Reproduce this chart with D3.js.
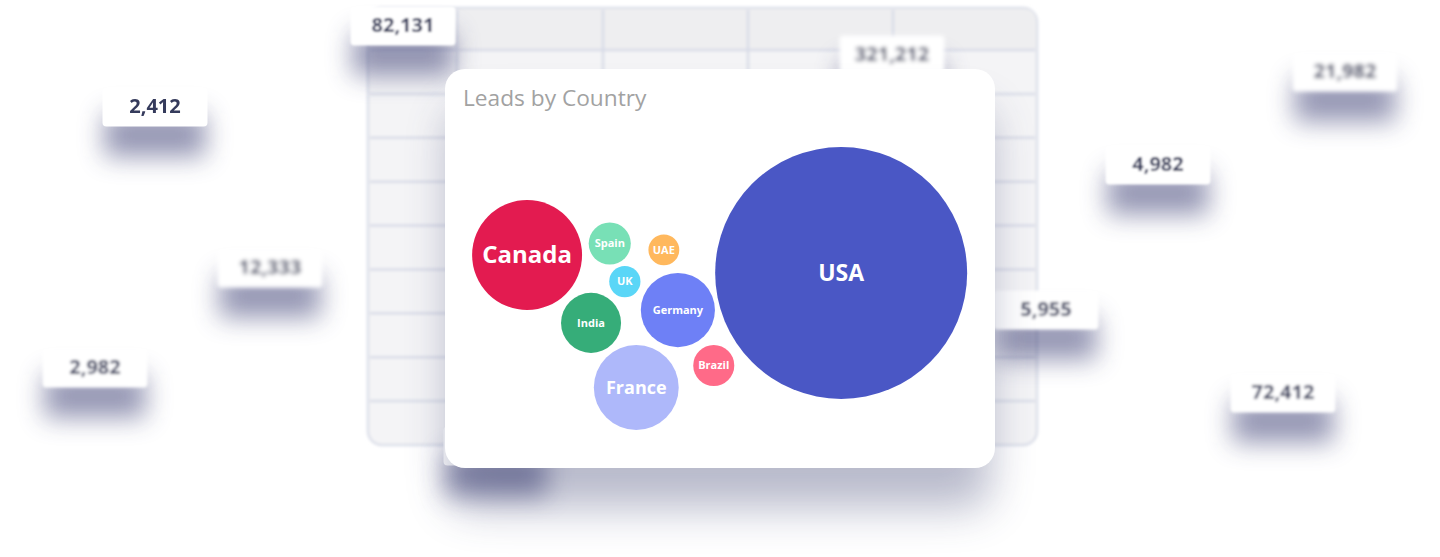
<!DOCTYPE html>
<html>
<head>
<meta charset="utf-8">
<script src="https://cdn.jsdelivr.net/npm/d3@7/dist/d3.min.js"></script>
<style>
  html, body { margin: 0; padding: 0; background: #ffffff; }
  svg { display: block; }
  text { font-family: "Open Sans", "Noto Sans", sans-serif; }
</style>
</head>
<body>
<script>
// ---------- chart data ----------
const title = "Leads by Country";
const countries = ["USA", "Canada", "France", "Germany", "India", "Spain", "Brazil", "UK", "UAE"];
const leads     = [5200,   990,      590,      450,       295,     145,     138,      80,   78];
// packed-bubble layout position of each country (layout units 0–100)
const layoutX   = [73.3,   12.9,     33.9,     41.9,      25.2,    28.8,    48.8,     31.7, 39.2];
const layoutY   = [47.8,   42.2,     83.6,     59.4,      63.4,    38.6,    76.7,     50.5, 40.6];

// ---------- decorative background badges ----------
const badgeValues = ["82,131", "321,212", "2,412", "12,333", "2,982", "21,982", "4,982", "5,955", "72,412"];
const badgeX      = [403,      892,       155,     270,      95,      1345,     1158,    1046,    1283];
const badgeY      = [26,       55,        107,     268,      368,     72,       165,     310,     393];
const badgeBlur   = [1.3,      2.2,       0.7,     2.0,      1.5,     2.0,      0.8,     1.8,     1.6];

// ---------- styles (kept apart from the data) ----------
const colorOf = {
  USA: "#4a57c5", Canada: "#e31b50", France: "#aeb8fa", Germany: "#6e80f6",
  India: "#36ad79", Spain: "#78e0b6", Brazil: "#ff6a88", UK: "#5ad6f7", UAE: "#ffb85d"
};
const fontOf = { USA: 23, Canada: 24, France: 18 };
const smallFont = 11;

const W = 1440, H = 557;
const svg = d3.select("body").append("svg").attr("width", W).attr("height", H);
const defs = svg.append("defs");

function blurFilter(id, sd) {
  const f = defs.append("filter").attr("id", id)
    .attr("x", "-60%").attr("y", "-100%").attr("width", "220%").attr("height", "300%");
  f.append("feGaussianBlur").attr("stdDeviation", sd);
}
blurFilter("tblBlur", 1.7);
blurFilter("shBlur", 13);
blurFilter("cardSh", 22);
badgeBlur.forEach((b, i) => blurFilter("bb" + i, b));

// ---------- background table ----------
const table = { x0: 368, x1: 1037, y0: 8, y1: 445, head: 50 };
const colEdges = [457, 603, 748, 893];
const rowCount = 9;
const tg = svg.append("g").attr("filter", "url(#tblBlur)");
tg.append("rect")
  .attr("x", table.x0).attr("y", table.y0)
  .attr("width", table.x1 - table.x0).attr("height", table.y1 - table.y0)
  .attr("rx", 14).attr("fill", "#f4f4f6").attr("stroke", "#dcdfe9").attr("stroke-width", 2.5);
tg.append("path")
  .attr("d", `M${table.x0 + 1},${table.head} V${table.y0 + 14} Q${table.x0 + 1},${table.y0 + 1} ${table.x0 + 14},${table.y0 + 1} H${table.x1 - 14} Q${table.x1 - 1},${table.y0 + 1} ${table.x1 - 1},${table.y0 + 14} V${table.head} Z`)
  .attr("fill", "#eeeef0");
const rowY = d3.scaleLinear().domain([0, rowCount]).range([table.head, table.y1]);
tg.selectAll("line.h").data(d3.range(0, rowCount)).join("line")
  .attr("x1", table.x0 + 2).attr("x2", table.x1 - 2)
  .attr("y1", d => rowY(d)).attr("y2", d => rowY(d))
  .attr("stroke", "#d8dbe7").attr("stroke-width", 2.5);
tg.selectAll("line.v").data(colEdges).join("line")
  .attr("x1", d => d).attr("x2", d => d)
  .attr("y1", table.y0 + 2).attr("y2", table.y1 - 2)
  .attr("stroke", "#d8dbe7").attr("stroke-width", 2.5);

// ---------- badges ----------
const BW = 105, BH = 39;
function badge(i, label, cx, cy) {
  const g = svg.append("g");
  g.append("rect")
    .attr("x", cx - BW / 2 + 2).attr("y", cy - BH / 2 + 26)
    .attr("width", BW - 4).attr("height", BH + 4)
    .attr("fill", "#3c4176").attr("opacity", 0.55)
    .attr("filter", "url(#shBlur)");
  const b = g.append("g").attr("filter", i >= 0 ? `url(#bb${i})` : null);
  b.append("rect")
    .attr("x", cx - BW / 2).attr("y", cy - BH / 2)
    .attr("width", BW).attr("height", BH).attr("rx", 4)
    .attr("fill", "#ffffff");
  if (label) {
    b.append("text")
      .attr("x", cx).attr("y", cy - 1).attr("dy", "0.35em")
      .attr("text-anchor", "middle")
      .attr("font-size", 20).attr("font-weight", 700)
      .attr("fill", "#363a5b")
      .text(label);
  }
}
// a badge hidden behind the card (only its shadow shows)
badge(-1, "", 496, 446);
badgeValues.forEach((v, i) => badge(i, v, badgeX[i], badgeY[i]));

// ---------- card ----------
const card = { x: 445, y: 69, w: 550, h: 399 };
svg.append("rect")
  .attr("x", card.x + 5).attr("y", card.y + 40)
  .attr("width", card.w - 10).attr("height", card.h)
  .attr("rx", 20).attr("fill", "#3a3f70").attr("opacity", 0.36)
  .attr("filter", "url(#cardSh)");
svg.append("rect")
  .attr("x", card.x).attr("y", card.y)
  .attr("width", card.w).attr("height", card.h)
  .attr("rx", 20).attr("fill", "#ffffff");

svg.append("text")
  .attr("x", card.x + 18).attr("y", card.y + 37)
  .attr("font-size", 22.7).attr("fill", "#a2a2a2")
  .text(title);

// ---------- packed bubbles ----------
const x = d3.scaleLinear().domain([0, 100]).range([460, 980]);
const y = d3.scaleLinear().domain([0, 100]).range([120, 440]);
const r = d3.scaleSqrt().domain([0, d3.max(leads)]).range([0, 126]);

const data = countries.map((c, i) => ({ country: c, value: leads[i], lx: layoutX[i], ly: layoutY[i] }));
const bub = svg.append("g").selectAll("g").data(data).join("g")
  .attr("transform", d => `translate(${x(d.lx)},${y(d.ly)})`);
bub.append("circle")
  .attr("r", d => r(d.value))
  .attr("fill", d => colorOf[d.country]);
bub.append("text")
  .attr("text-anchor", "middle").attr("dy", "0.35em")
  .attr("font-size", d => fontOf[d.country] || smallFont)
  .attr("font-weight", 700)
  .attr("fill", "#ffffff")
  .text(d => d.country);
</script>
</body>
</html>
